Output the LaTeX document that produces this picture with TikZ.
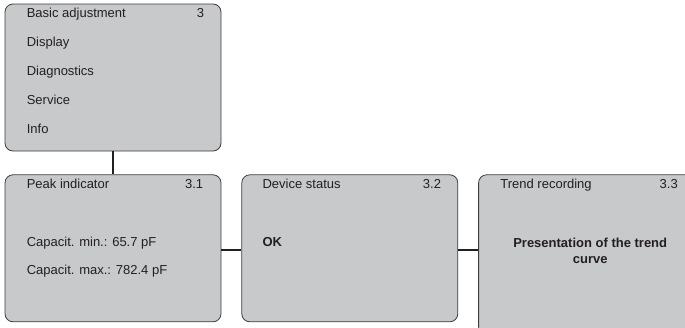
\documentclass[tikz,border=0pt]{standalone}
\usepackage{fontspec}
\setmainfont{Liberation Sans}
\usetikzlibrary{positioning}
\definecolor{menugray}{HTML}{C8C9CB}
\definecolor{framegray}{HTML}{3C3C3C}
\definecolor{inktext}{HTML}{231F20}

\begin{document}
\begin{tikzpicture}[x=1pt, y=-1pt,
  menubox/.style={draw=framegray, line width=0.8pt, fill=menugray, rounded corners=8pt,
    minimum width=216pt, minimum height=147pt, inner sep=0pt},
  entry/.style={anchor=base west, inner sep=0pt, text=inktext, font=\fontsize{13}{15}\selectfont},
  menuno/.style={anchor=base east, inner sep=0pt, text=inktext, font=\fontsize{13}{15}\selectfont},
  link/.style={line width=2.2pt, draw=inktext}]
\useasboundingbox (0,0) rectangle (685,327);
\clip (0,0) rectangle (685,327);

% menu windows
\node[menubox] (basic) at (113,77.5) {};
\node[menubox, below=23pt of basic] (peak) {};
\node[menubox, right=20pt of peak] (status) {};
\node[menubox, minimum height=160pt, anchor=north west] (trend) at ([xshift=20pt]status.north east) {};

% connectors
\coordinate (row) at ([yshift=-2pt]peak.east);
\draw[link] (basic.south) -- (peak.north);
\draw[link] (row) -- (row -| status.west);
\draw[link] (row -| status.east) -- (row -| trend.west);

% main menu
\foreach \txt [count=\i from 0] in {Basic adjustment, Display, Diagnostics, Service, Info}
  \node[entry] (basic-\i) at ([shift={(22,14+28.85*\i)}]basic.north west) {\txt};
\node[menuno] (basic-no) at ([shift={(-17,14)}]basic.north east) {3};

% peak indicator
\node[entry] (peak-title) at ([shift={(22,14)}]peak.north west) {Peak indicator};
\node[menuno] (peak-no) at ([shift={(-18,14)}]peak.north east) {3.1};
\node[entry] (peak-min) at ([shift={(22,72)}]peak.north west) {Capacit. min.: 65.7 pF};
\node[entry] (peak-max) at ([shift={(22,100.5)}]peak.north west) {Capacit. max.: 782.4 pF};

% device status
\node[entry] (status-title) at ([shift={(21,14)}]status.north west) {Device status};
\node[menuno] (status-no) at ([shift={(-17,14)}]status.north east) {3.2};
\node[entry, font=\fontsize{13}{15}\selectfont\bfseries] (status-ok) at ([shift={(21,72)}]status.north west) {OK};

% trend recording
\node[entry] (trend-title) at ([shift={(22,14)}]trend.north west) {Trend recording};
\node[menuno] (trend-no) at ([shift={(-17,14)}]trend.north east) {3.3};
\node[align=center, inner sep=0pt, text=inktext, font=\fontsize{13}{16}\selectfont\bfseries]
  (trend-text) at ([shift={(112,76)}]trend.north west) {Presentation of the trend\\curve};
\end{tikzpicture}
\end{document}
